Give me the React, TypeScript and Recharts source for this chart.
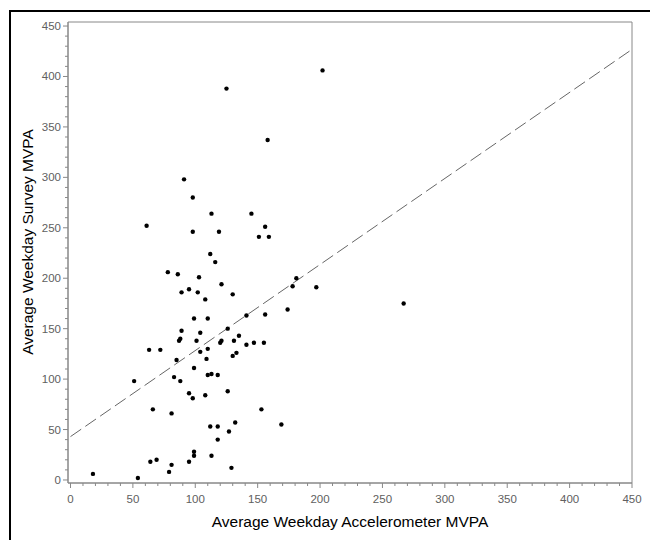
import React from 'react';
import { ScatterChart, Scatter, XAxis, YAxis, ReferenceArea } from 'recharts';

// Average weekday accelerometer MVPA (x) and survey MVPA (y) per subject
const accelMVPA = [
  125, 158, 91, 98, 113, 145, 61, 156, 98, 119, 151, 159, 202, 112, 116, 78, 86, 103, 121, 95,
  89, 102, 130, 108, 141, 156, 99, 110, 89, 126, 104, 88, 87, 101, 120, 121, 131, 135, 141, 147,
  155, 63, 72, 110, 104, 133, 130, 85, 109, 99, 83, 51, 88, 110, 113, 118, 95, 98, 108, 126,
  66, 81, 153, 132, 112, 118, 127, 118, 99, 99, 113, 64, 69, 81, 95, 79, 129, 18, 54, 181,
  178, 197, 174, 169, 267,
];
const surveyMVPA = [
  388, 337, 298, 280, 264, 264, 252, 251, 246, 246, 241, 241, 406, 224, 216, 206, 204, 201, 194, 189,
  186, 186, 184, 179, 163, 164, 160, 160, 148, 150, 146, 140, 138, 138, 136, 138, 138, 143, 134, 136,
  136, 129, 129, 130, 127, 126, 123, 119, 120, 111, 102, 98, 98, 104, 105, 104, 86, 81, 84, 88,
  70, 66, 70, 57, 53, 53, 48, 40, 28, 24, 24, 18, 20, 15, 18, 8, 12, 6, 2, 200,
  192, 191, 169, 55, 175,
];

// Fitted regression line endpoints
const fitX = [0, 450];
const fitIntercept = 43;
const fitSlope = 0.853;

const xDomain: [number, number] = [-2, 450];
const yDomain: [number, number] = [-3, 454];

const majorTicks = [0, 50, 100, 150, 200, 250, 300, 350, 400, 450];
const allTicks = [
  0, 10, 20, 30, 40, 50, 60, 70, 80, 90, 100, 110, 120, 130, 140, 150, 160, 170, 180, 190, 200,
  210, 220, 230, 240, 250, 260, 270, 280, 290, 300, 310, 320, 330, 340, 350, 360, 370, 380, 390,
  400, 410, 420, 430, 440, 450,
];

const xTitle = 'Average Weekday Accelerometer MVPA';
const yTitle = 'Average Weekday Survey MVPA';

const points = accelMVPA.map((x, i) => ({ x, y: surveyMVPA[i] }));
const fitLine = fitX.map((x) => ({ x, y: fitIntercept + fitSlope * x }));

const FONT = '"Liberation Sans", Arial, Helvetica, sans-serif';
const AXIS_COLOR = '#888888';
const TICK_TEXT = '#606060';

const XTick = (props: any) => {
  const { x, y, payload } = props;
  const v = payload.value;
  const major = majorTicks.includes(v);
  return (
    <g>
      <line x1={x} x2={x} y1={y} y2={y + (major ? 5 : 3)} stroke={AXIS_COLOR} strokeWidth={1} />
      {major && (
        <text x={x} y={y + 19.5} textAnchor="middle" fontSize={11.5} fontFamily={FONT} fill={TICK_TEXT}>
          {v}
        </text>
      )}
    </g>
  );
};

const YTick = (props: any) => {
  const { x, y, payload } = props;
  const v = payload.value;
  const major = majorTicks.includes(v);
  return (
    <g>
      <line x1={x} x2={x - (major ? 5 : 3)} y1={y} y2={y} stroke={AXIS_COLOR} strokeWidth={1} />
      {major && (
        <text x={x - 7} y={y + 4} textAnchor="end" fontSize={11.5} fontFamily={FONT} fill={TICK_TEXT}>
          {v}
        </text>
      )}
    </g>
  );
};

const XTitle = (props: any) => {
  const vb = props.viewBox || { x: 68, y: 483, width: 564, height: 57 };
  return (
    <text x={vb.x + vb.width / 2} y={vb.y + 43.5} textAnchor="middle" fontSize={15.5} fontFamily={FONT} fill="#000">
      {xTitle}
    </text>
  );
};

const YTitle = () => {
  const cx = 33;
  const cy = 242;
  return (
    <text
      x={cx}
      y={cy}
      transform={`rotate(-90 ${cx} ${cy})`}
      textAnchor="middle"
      fontSize={15.5}
      fontFamily={FONT}
      fill="#000"
    >
      {yTitle}
    </text>
  );
};

const Dot = (props: any) => <circle cx={props.cx} cy={props.cy} r={2.2} fill="#000" />;
const NoDot = () => <g />;

export default function App() {
  return (
    <div style={{ position: 'absolute', left: 0, top: 0, width: 650, height: 540, background: '#fff', overflow: 'hidden' }}>
      <div
        style={{
          position: 'absolute',
          left: 9,
          top: 10,
          width: 700,
          height: 600,
          borderTop: '2px solid #000',
          borderLeft: '2px solid #000',
        }}
      />
      <div style={{ position: 'absolute', left: 0, top: 0 }}>
        <ScatterChart width={650} height={540} margin={{ top: 22, right: 18, bottom: 0, left: 0 }}>
          <XAxis
            type="number"
            dataKey="x"
            domain={xDomain}
            allowDataOverflow
            ticks={allTicks}
            interval={0}
            tickSize={0}
            tickMargin={0}
            tickLine={false}
            tick={<XTick />}
            height={57}
            stroke={AXIS_COLOR}
            label={<XTitle />}
          />
          <YAxis
            type="number"
            dataKey="y"
            domain={yDomain}
            allowDataOverflow
            ticks={allTicks}
            interval={0}
            tickSize={0}
            tickMargin={0}
            tickLine={false}
            tick={<YTick />}
            width={68}
            stroke={AXIS_COLOR}
            label={<YTitle />}
          />
          <ReferenceArea
            x1={xDomain[0]}
            x2={xDomain[1]}
            y1={yDomain[0]}
            y2={yDomain[1]}
            fill="none"
            stroke={AXIS_COLOR}
            strokeWidth={1}
          />
          <Scatter
            data={fitLine}
            line={{ stroke: '#666666', strokeWidth: 1, strokeDasharray: '13 5' }}
            shape={<NoDot />}
            isAnimationActive={false}
          />
          <Scatter data={points} shape={<Dot />} isAnimationActive={false} />
        </ScatterChart>
      </div>
    </div>
  );
}
